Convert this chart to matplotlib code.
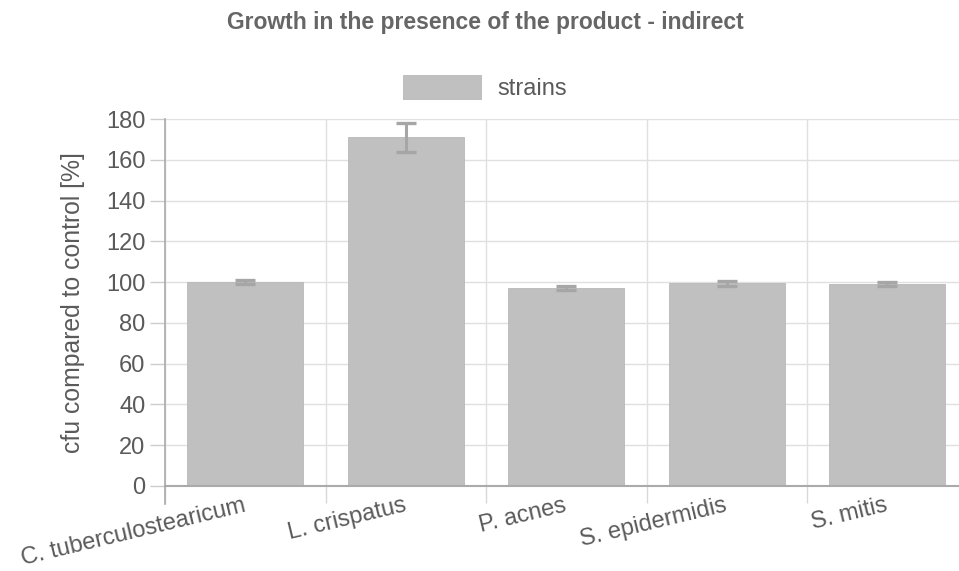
import numpy as np
import matplotlib
matplotlib.use("Agg")
import matplotlib.pyplot as plt

# data
strains = ["C. tuberculostearicum", "L. crispatus", "P. acnes",
           "S. epidermidis", "S. mitis"]
cfu_pct = [100.0, 171.0, 97.2, 99.4, 99.0]
cfu_err = [1.0, 7.2, 1.1, 1.2, 1.0]
yticks = [0, 20, 40, 60, 80, 100, 120, 140, 160, 180]

W, H = 959, 571
BAR_C = "#c0c0c0"
ERR_C = "#a6a6a6"
GRID_C = "#e0e0e0"
TXT_C = "#5a5a5a"
FS = 17

plt.rcParams["font.family"] = ["Liberation Sans", "DejaVu Sans"]

fig = plt.figure(figsize=(W / 100, H / 100), dpi=100)
fig.patch.set_facecolor("white")

# plot area in pixels: x 165..967.5, y 119..486
x0, x1, y0, y1 = 165, 967.5, 119, 486
ax = fig.add_axes([x0 / W, (H - y1) / H, (x1 - x0) / W, (y1 - y0) / H])

x = np.arange(len(strains))
ax.bar(x, cfu_pct, width=0.72, color=BAR_C, edgecolor="#b8b8b8",
       linewidth=0.6, label="strains", zorder=2)
ax.errorbar(x, cfu_pct, yerr=cfu_err, fmt="none", ecolor=ERR_C,
            elinewidth=2.2, capsize=7.2, capthick=2.4, zorder=3)

ax.set_xlim(-0.5, len(strains) - 0.5)
ax.set_ylim(0, 180)
ax.set_yticks(yticks)
ax.tick_params(axis="y", length=11, width=1, color="#cccccc",
               labelsize=FS, labelcolor=TXT_C, pad=3)

# category boundaries: gridlines + ticks hanging below the axis
ax.set_xticks(x)
ax.set_xticklabels([])
ax.tick_params(axis="x", which="major", length=0)
ax.set_xticks(np.arange(-0.5, len(strains), 1.0), minor=True)
ax.tick_params(axis="x", which="minor", length=12, width=1, color="#d8d8d8")

ax.grid(True, axis="y", color=GRID_C, linewidth=1, zorder=0)
ax.grid(True, axis="x", which="minor", color=GRID_C, linewidth=1, zorder=0)
ax.set_axisbelow(True)

for s in ("top", "right"):
    ax.spines[s].set_visible(False)
ax.spines["left"].set_color("#aaaaaa")
ax.spines["left"].set_linewidth(1.2)
ax.spines["left"].set_bounds(-9, 180)
ax.spines["bottom"].set_color("#aaaaaa")
ax.spines["bottom"].set_linewidth(1.5)

# rotated category labels, right end near the bar centre
for xi, name in zip(x, strains):
    ax.annotate(name, xy=(xi, 0), xycoords=("data", "axes fraction"),
                xytext=(-2, -6), textcoords="offset points",
                ha="right", va="top", rotation=13.5, rotation_mode="anchor",
                fontsize=FS, color=TXT_C)

ax.set_ylabel("cfu compared to control [%]", fontsize=17.8, color=TXT_C,
              labelpad=15)

ax.legend(loc="lower center", bbox_to_anchor=(485 / W, 1 - 121 / H),
          bbox_transform=fig.transFigure, frameon=False, fontsize=FS,
          handlelength=3.3, handleheight=1.2, handletextpad=0.7,
          labelcolor=TXT_C)

fig.text(485 / W, 1 - 22 / H, "Growth in the presence of the product - indirect",
         ha="center", va="center", fontsize=16.5, fontweight="bold",
         color="#666666")

fig.savefig("out.png", dpi=100, facecolor="white")
